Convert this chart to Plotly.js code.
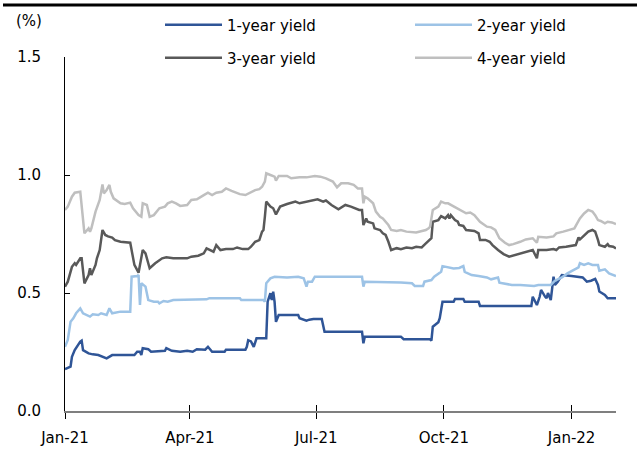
<!DOCTYPE html>
<html>
<head>
<meta charset="utf-8">
<script src="https://cdn.plot.ly/plotly-3.0.1.min.js"></script>
<style>html,body{margin:0;padding:0;background:#fff;}#chart{width:637px;height:450px;}</style>
</head>
<body>
<div id="chart"></div>
<script>
// ---- data ----
const seriesNames = ["1-year yield", "2-year yield", "3-year yield", "4-year yield"];
const tickDates = ["2021-01-01", "2021-04-01", "2021-07-01", "2021-10-01", "2022-01-01"];
const yTicks = [0, 0.5, 1.0, 1.5];

const dates1 = ["2021-01-01","2021-01-05","2021-01-06","2021-01-08","2021-01-12","2021-01-13","2021-01-14","2021-01-18","2021-01-21","2021-01-25","2021-01-31","2021-02-04","2021-02-20","2021-02-22","2021-02-24","2021-02-25","2021-02-26","2021-03-02","2021-03-04","2021-03-14","2021-03-15","2021-03-19","2021-03-25","2021-03-30","2021-04-03","2021-04-06","2021-04-12","2021-04-14","2021-04-17","2021-04-26","2021-04-27","2021-05-07","2021-05-11","2021-05-12","2021-05-13","2021-05-15","2021-05-17","2021-05-19","2021-05-26","2021-05-27","2021-05-29","2021-05-30","2021-05-31","2021-06-01","2021-06-02","2021-06-04","2021-06-18","2021-06-19","2021-06-23","2021-06-24","2021-06-26","2021-06-29","2021-07-05","2021-07-07","2021-08-03","2021-08-04","2021-08-05","2021-08-31","2021-09-02","2021-09-21","2021-09-22","2021-09-23","2021-09-27","2021-09-28","2021-09-30","2021-10-08","2021-10-09","2021-10-15","2021-10-16","2021-10-26","2021-10-27","2021-12-03","2021-12-04","2021-12-07","2021-12-09","2021-12-10","2021-12-13","2021-12-14","2021-12-15","2021-12-17","2021-12-19","2021-12-20","2021-12-22","2021-12-25","2022-01-01","2022-01-09","2022-01-12","2022-01-15","2022-01-18","2022-01-20","2022-01-21","2022-01-25","2022-01-27","2022-02-02"];
const yield1 = [0.177,0.188,0.23,0.258,0.294,0.298,0.258,0.244,0.24,0.237,0.223,0.237,0.237,0.251,0.251,0.237,0.266,0.262,0.251,0.255,0.266,0.255,0.251,0.255,0.251,0.262,0.26,0.272,0.251,0.251,0.26,0.26,0.26,0.272,0.30,0.295,0.272,0.308,0.308,0.463,0.499,0.47,0.506,0.463,0.378,0.407,0.407,0.393,0.386,0.383,0.387,0.39,0.39,0.336,0.336,0.287,0.315,0.315,0.304,0.304,0.298,0.357,0.376,0.393,0.463,0.463,0.475,0.475,0.463,0.463,0.445,0.445,0.484,0.449,0.484,0.513,0.484,0.478,0.50,0.47,0.569,0.534,0.548,0.576,0.572,0.566,0.548,0.552,0.56,0.534,0.506,0.492,0.478,0.478];

const dates2 = ["2021-01-01","2021-01-03","2021-01-05","2021-01-07","2021-01-09","2021-01-12","2021-01-14","2021-01-17","2021-01-19","2021-01-21","2021-01-25","2021-01-27","2021-01-31","2021-02-02","2021-02-04","2021-02-10","2021-02-17","2021-02-18","2021-02-22","2021-02-23","2021-02-24","2021-02-25","2021-02-28","2021-03-02","2021-03-06","2021-03-09","2021-03-10","2021-03-13","2021-03-16","2021-03-20","2021-04-01","2021-04-13","2021-04-15","2021-05-07","2021-05-08","2021-05-24","2021-05-25","2021-05-26","2021-05-29","2021-06-01","2021-06-10","2021-06-18","2021-06-22","2021-06-23","2021-06-24","2021-06-25","2021-06-28","2021-06-30","2021-08-03","2021-08-04","2021-08-05","2021-08-31","2021-09-08","2021-09-10","2021-09-16","2021-09-17","2021-09-22","2021-09-24","2021-09-29","2021-09-30","2021-10-04","2021-10-08","2021-10-12","2021-10-15","2021-10-16","2021-10-21","2021-10-26","2021-11-01","2021-11-04","2021-11-09","2021-11-10","2021-11-19","2021-11-25","2021-12-05","2021-12-08","2021-12-17","2021-12-20","2021-12-25","2021-12-29","2022-01-06","2022-01-07","2022-01-10","2022-01-13","2022-01-16","2022-01-20","2022-01-21","2022-01-25","2022-01-28","2022-02-02"];
const yield2 = [0.272,0.301,0.378,0.393,0.414,0.435,0.414,0.407,0.40,0.41,0.407,0.414,0.407,0.435,0.414,0.421,0.421,0.569,0.572,0.576,0.449,0.541,0.527,0.47,0.463,0.463,0.456,0.466,0.463,0.47,0.47,0.473,0.478,0.478,0.47,0.47,0.463,0.541,0.562,0.569,0.566,0.569,0.562,0.548,0.527,0.548,0.548,0.569,0.569,0.527,0.548,0.545,0.541,0.53,0.53,0.548,0.555,0.569,0.59,0.614,0.608,0.604,0.606,0.614,0.59,0.576,0.572,0.566,0.558,0.566,0.544,0.534,0.534,0.53,0.534,0.534,0.552,0.566,0.583,0.609,0.626,0.619,0.626,0.619,0.619,0.594,0.60,0.583,0.572];

const dates3 = ["2021-01-01","2021-01-03","2021-01-06","2021-01-08","2021-01-09","2021-01-12","2021-01-13","2021-01-15","2021-01-18","2021-01-19","2021-01-20","2021-01-23","2021-01-24","2021-01-26","2021-01-28","2021-01-30","2021-02-01","2021-02-04","2021-02-06","2021-02-10","2021-02-17","2021-02-20","2021-02-23","2021-02-26","2021-02-28","2021-03-03","2021-03-07","2021-03-12","2021-03-15","2021-03-20","2021-03-30","2021-04-02","2021-04-07","2021-04-11","2021-04-13","2021-04-15","2021-04-18","2021-04-20","2021-04-23","2021-04-27","2021-05-02","2021-05-05","2021-05-09","2021-05-13","2021-05-15","2021-05-18","2021-05-21","2021-05-23","2021-05-24","2021-05-25","2021-05-26","2021-05-29","2021-05-31","2021-06-02","2021-06-05","2021-06-10","2021-06-16","2021-06-19","2021-06-25","2021-07-02","2021-07-06","2021-07-08","2021-07-12","2021-07-14","2021-07-17","2021-07-22","2021-07-26","2021-08-01","2021-08-03","2021-08-04","2021-08-06","2021-08-07","2021-08-11","2021-08-12","2021-08-16","2021-08-18","2021-08-20","2021-08-22","2021-08-24","2021-08-28","2021-08-31","2021-09-04","2021-09-08","2021-09-11","2021-09-15","2021-09-18","2021-09-21","2021-09-22","2021-09-23","2021-09-27","2021-09-29","2021-10-02","2021-10-04","2021-10-05","2021-10-06","2021-10-09","2021-10-11","2021-10-12","2021-10-15","2021-10-17","2021-10-23","2021-10-26","2021-10-27","2021-10-31","2021-11-03","2021-11-05","2021-11-09","2021-11-13","2021-11-17","2021-11-21","2021-11-25","2021-11-29","2021-12-04","2021-12-07","2021-12-08","2021-12-14","2021-12-19","2021-12-21","2021-12-23","2021-12-28","2022-01-02","2022-01-04","2022-01-06","2022-01-07","2022-01-09","2022-01-13","2022-01-16","2022-01-18","2022-01-20","2022-01-21","2022-01-25","2022-01-27","2022-01-28","2022-01-31","2022-02-02"];
const yield3 = [0.527,0.548,0.611,0.626,0.619,0.647,0.647,0.541,0.576,0.605,0.576,0.619,0.647,0.682,0.767,0.746,0.74,0.735,0.724,0.717,0.713,0.619,0.586,0.682,0.668,0.605,0.626,0.647,0.651,0.647,0.647,0.654,0.658,0.668,0.689,0.682,0.675,0.703,0.682,0.686,0.686,0.693,0.686,0.686,0.696,0.717,0.724,0.76,0.767,0.823,0.887,0.866,0.859,0.833,0.866,0.877,0.887,0.88,0.887,0.897,0.887,0.892,0.873,0.866,0.855,0.873,0.866,0.852,0.852,0.788,0.816,0.802,0.795,0.774,0.767,0.753,0.746,0.717,0.682,0.69,0.686,0.693,0.69,0.696,0.693,0.71,0.725,0.732,0.802,0.809,0.826,0.816,0.83,0.816,0.83,0.809,0.802,0.788,0.784,0.767,0.763,0.753,0.725,0.725,0.717,0.703,0.682,0.665,0.654,0.661,0.668,0.675,0.682,0.647,0.682,0.682,0.686,0.682,0.693,0.696,0.703,0.703,0.735,0.727,0.738,0.76,0.767,0.76,0.725,0.703,0.696,0.707,0.699,0.696,0.689];

const dates4 = ["2021-01-01","2021-01-03","2021-01-06","2021-01-08","2021-01-12","2021-01-13","2021-01-15","2021-01-18","2021-01-19","2021-01-20","2021-01-23","2021-01-26","2021-01-28","2021-01-29","2021-01-31","2021-02-02","2021-02-03","2021-02-05","2021-02-07","2021-02-10","2021-02-13","2021-02-17","2021-02-19","2021-02-23","2021-02-25","2021-02-26","2021-03-01","2021-03-03","2021-03-06","2021-03-08","2021-03-10","2021-03-14","2021-03-16","2021-03-19","2021-03-22","2021-03-25","2021-03-30","2021-04-02","2021-04-06","2021-04-11","2021-04-14","2021-04-17","2021-04-20","2021-04-24","2021-04-27","2021-05-01","2021-05-05","2021-05-07","2021-05-11","2021-05-14","2021-05-18","2021-05-21","2021-05-23","2021-05-25","2021-05-26","2021-05-29","2021-06-01","2021-06-02","2021-06-04","2021-06-10","2021-06-13","2021-06-19","2021-06-24","2021-06-30","2021-07-04","2021-07-08","2021-07-13","2021-07-16","2021-07-19","2021-07-24","2021-07-28","2021-07-31","2021-08-03","2021-08-04","2021-08-05","2021-08-07","2021-08-11","2021-08-13","2021-08-16","2021-08-18","2021-08-22","2021-08-24","2021-08-28","2021-08-31","2021-09-04","2021-09-11","2021-09-15","2021-09-18","2021-09-20","2021-09-21","2021-09-23","2021-09-27","2021-09-29","2021-10-02","2021-10-04","2021-10-06","2021-10-09","2021-10-11","2021-10-14","2021-10-17","2021-10-20","2021-10-23","2021-10-27","2021-11-01","2021-11-04","2021-11-07","2021-11-10","2021-11-14","2021-11-17","2021-11-20","2021-11-25","2021-11-29","2021-12-04","2021-12-07","2021-12-08","2021-12-14","2021-12-19","2021-12-21","2021-12-26","2021-12-31","2022-01-03","2022-01-05","2022-01-07","2022-01-10","2022-01-13","2022-01-16","2022-01-18","2022-01-20","2022-01-22","2022-01-25","2022-01-27","2022-01-30","2022-02-02"];
const yield4 = [0.852,0.866,0.908,0.925,0.929,0.873,0.753,0.774,0.76,0.774,0.845,0.894,0.96,0.922,0.936,0.958,0.929,0.901,0.894,0.88,0.877,0.883,0.859,0.83,0.823,0.88,0.873,0.823,0.83,0.845,0.859,0.866,0.88,0.887,0.88,0.869,0.873,0.894,0.897,0.915,0.925,0.915,0.925,0.929,0.943,0.933,0.922,0.919,0.915,0.925,0.936,0.94,0.95,0.972,1.007,1.0,0.993,0.976,0.996,0.996,0.986,0.99,0.99,0.996,0.993,0.986,0.972,0.948,0.965,0.965,0.958,0.943,0.943,0.88,0.908,0.901,0.88,0.845,0.823,0.816,0.788,0.767,0.763,0.767,0.76,0.756,0.763,0.767,0.774,0.781,0.852,0.866,0.887,0.88,0.88,0.873,0.866,0.859,0.845,0.838,0.841,0.83,0.802,0.781,0.778,0.767,0.732,0.713,0.703,0.707,0.717,0.727,0.732,0.713,0.738,0.735,0.74,0.753,0.76,0.767,0.774,0.795,0.816,0.837,0.852,0.845,0.83,0.809,0.805,0.795,0.802,0.799,0.792];

const colors = ["#2F5597", "#9DC3E6", "#595959", "#BFBFBF"];

// ---- chart ----
const FONT = "DejaVu Sans, Verdana, sans-serif";
const W = 637, H = 450;
const M = {l: 65, r: 21, t: 57, b: 39, autoexpand: false};
const plotW = W - M.l - M.r, plotH = H - M.t - M.b;
const px2x = p => (p - M.l) / plotW;
const py2y = p => (H - M.b - p) / plotH;

const legendIds = ["legend", "legend2", "legend3", "legend4"];
const legendPos = [[160, 25], [410, 25], [160, 58], [410, 58]];

const allDates = [dates1, dates2, dates3, dates4];
const allVals = [yield1, yield2, yield3, yield4];
const traces = seriesNames.map((n, i) => ({
  type: "scatter", mode: "lines", name: n,
  x: allDates[i], y: allVals[i],
  line: {color: colors[i], width: 2.5},
  legend: legendIds[i]
}));
traces.push({type: "scatter", mode: "lines", x: [], y: [], xaxis: "x2", showlegend: false, hoverinfo: "skip"});

const xr = ["2021-01-01", "2022-02-02"];

const layout = {
  width: W, height: H,
  margin: M,
  paper_bgcolor: "#fff", plot_bgcolor: "#fff",
  font: {family: FONT, size: 15, color: "#000"},
  showlegend: true,
  xaxis: {
    type: "date", range: xr, tickvals: tickDates, tickformat: "%b-%y",
    ticks: "outside", ticklen: 6, tickwidth: 1, tickcolor: "#000",
    showline: true, linecolor: "#7F7F7F", linewidth: 1.5,
    showgrid: false, zeroline: false, fixedrange: true,
    tickfont: {family: FONT, size: 15, color: "#000"}, ticklabelstandoff: 6
  },
  xaxis2: {
    type: "date", range: xr, tickvals: tickDates, overlaying: "x", anchor: "y",
    ticks: "inside", ticklen: 6, tickwidth: 1, tickcolor: "#000",
    showticklabels: false, showline: false, showgrid: false, zeroline: false
  },
  yaxis: {
    range: [0, 1.5], tickvals: yTicks, tickformat: ".1f",
    ticks: "inside", ticklen: 5, tickwidth: 1, tickcolor: "#000",
    showline: true, linecolor: "#000", linewidth: 1,
    showgrid: false, zeroline: false, fixedrange: true,
    tickfont: {family: FONT, size: 15, color: "#000"}, ticklabelstandoff: 20
  },
  annotations: [{
    text: "(%)", xref: "paper", yref: "paper", x: px2x(14), y: py2y(21),
    xanchor: "left", yanchor: "middle", showarrow: false,
    font: {family: FONT, size: 15, color: "#000"}
  }],
  shapes: [{
    type: "line", xref: "paper", yref: "paper",
    x0: px2x(3), x1: px2x(637), y0: py2y(5), y1: py2y(5),
    line: {color: "#000", width: 3}
  }]
};
legendIds.forEach((id, i) => {
  layout[id] = {
    orientation: "h", x: px2x(legendPos[i][0]), y: py2y(legendPos[i][1]),
    xanchor: "left", yanchor: "middle", itemwidth: 57,
    font: {family: FONT, size: 15, color: "#000"}, bgcolor: "rgba(0,0,0,0)"
  };
});

Plotly.newPlot("chart", traces, layout, {staticPlot: true, displayModeBar: false});
</script>
</body>
</html>
